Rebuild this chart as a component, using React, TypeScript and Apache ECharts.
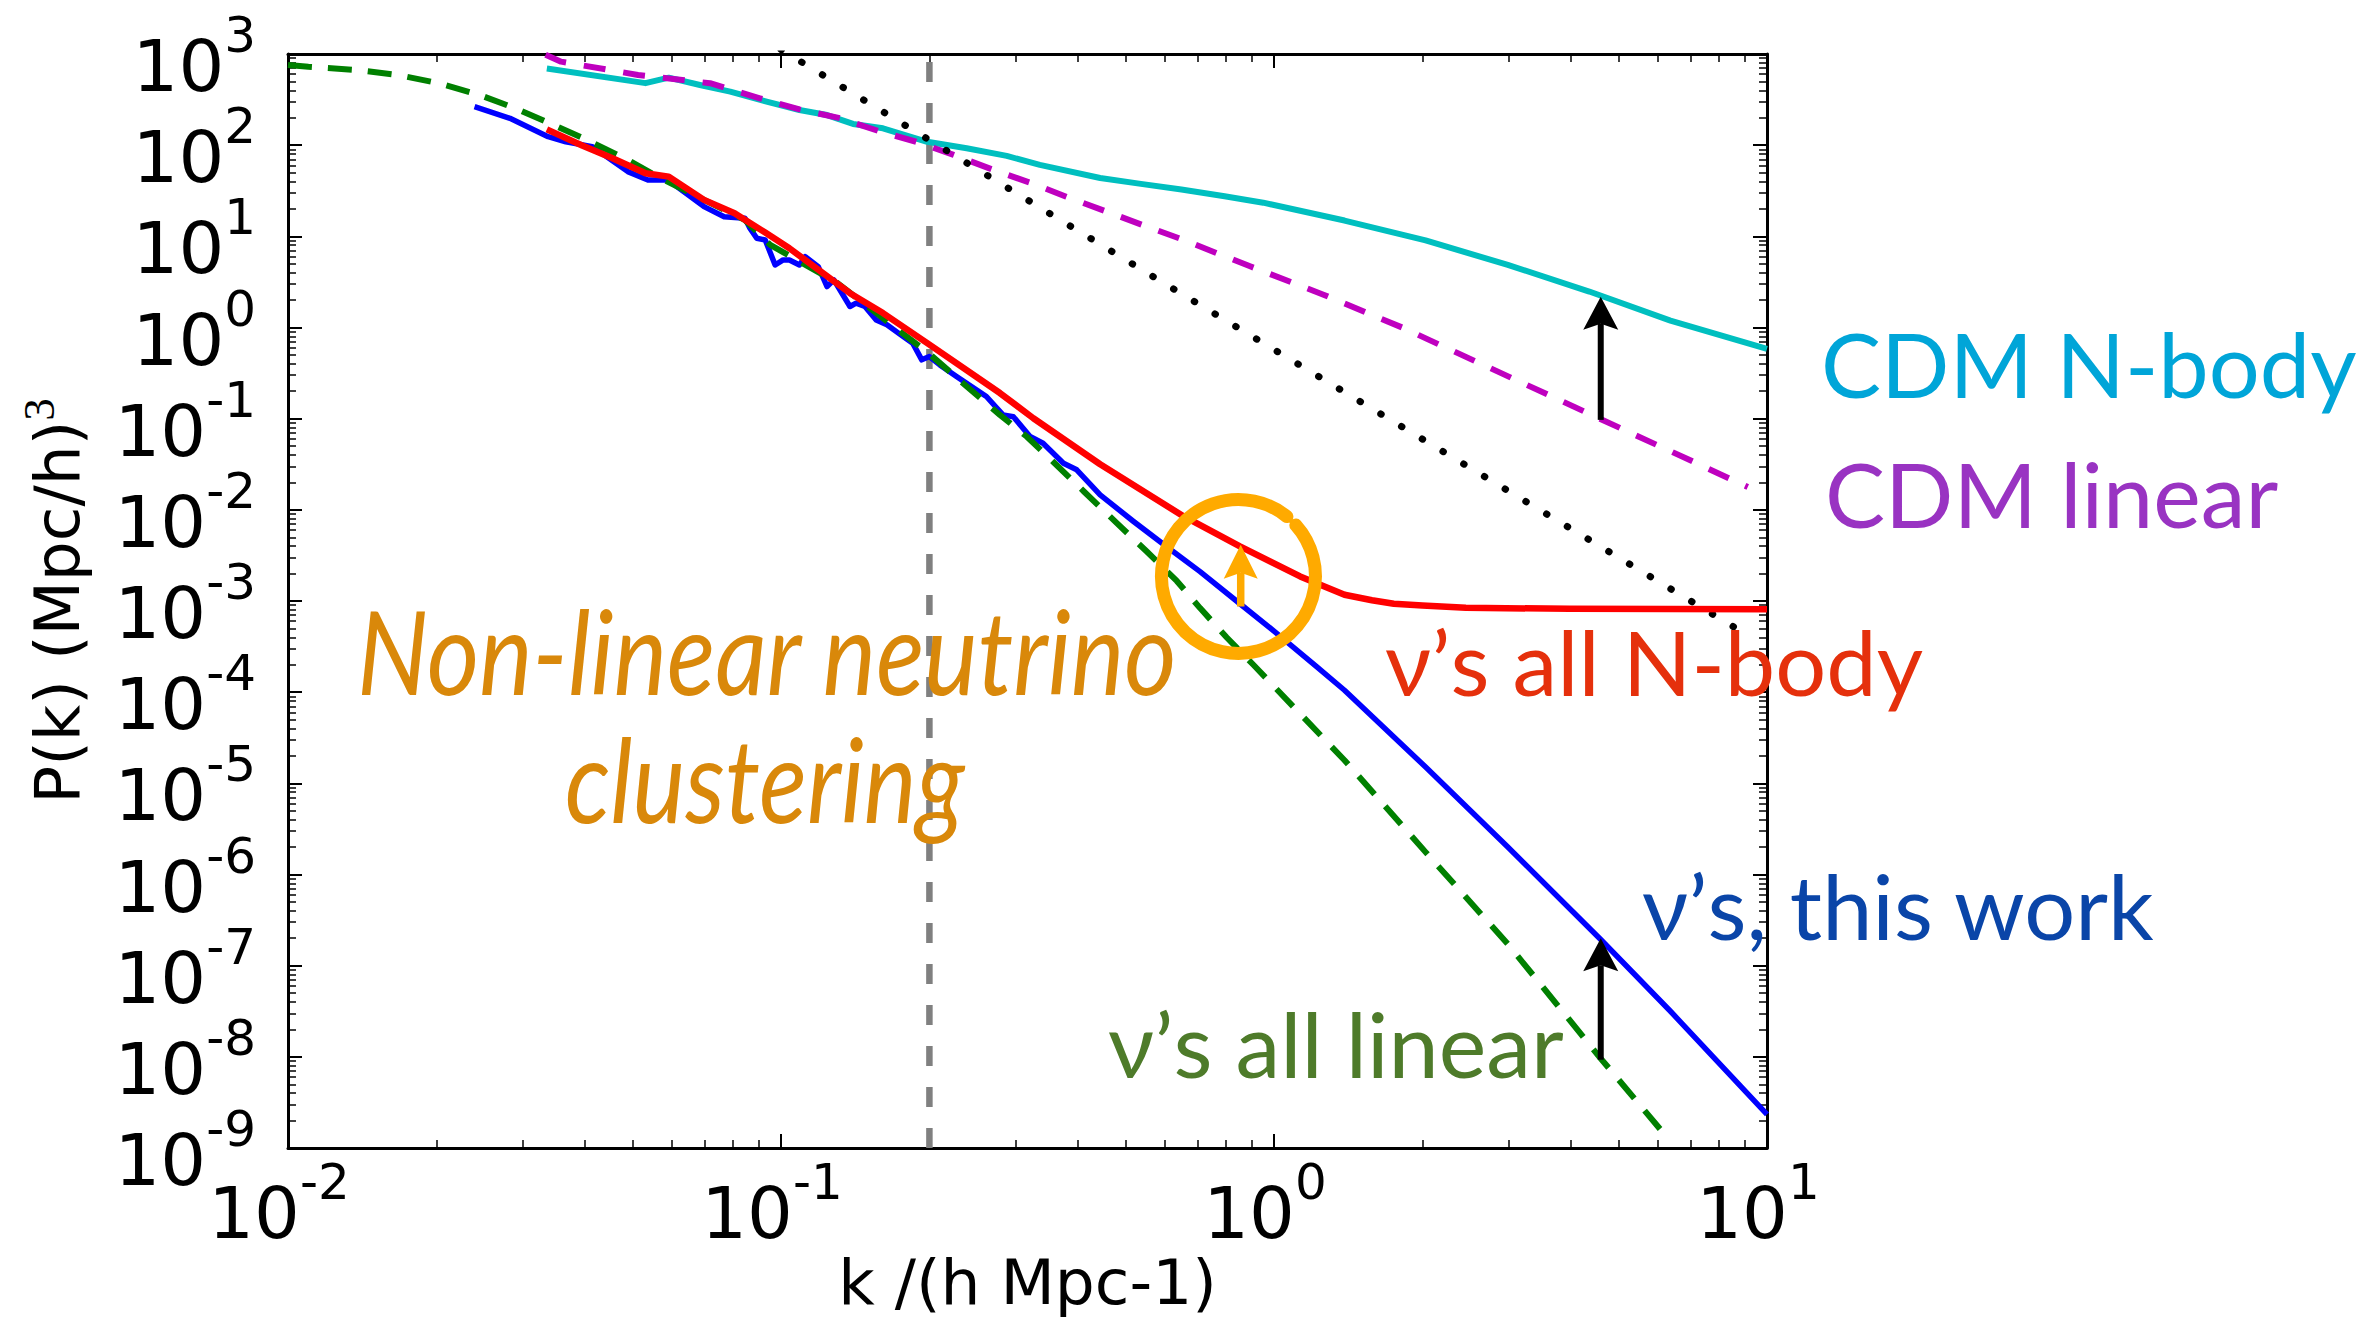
import React, { useEffect, useRef } from "react";
import * as echarts from "echarts";

// ---------------- axes / ticks ----------------
const xMajorTicks = [0.01, 0.1, 1, 10];
const yMajorTicks = [1e-9, 1e-8, 1e-7, 1e-6, 1e-5, 1e-4, 1e-3, 1e-2, 1e-1, 1, 10, 100, 1000];
const minorSteps = [2, 3, 4, 5, 6, 7, 8, 9];
const xAxisTitle = "k /(h Mpc-1)";
const yAxisTitle = "P(k) (Mpc/h)";
const yAxisTitleSup = "3";

// ---------------- series ----------------
// vertical dashed line at k = 0.2
const cutK = [0.2, 0.2];
const cutP = [1e-9, 1e3];

// CDM N-body (cyan)
const cdmNbodyK = [0.0335, 0.0531, 0.0592, 0.0685, 0.0789, 0.0935, 0.109, 0.124, 0.14, 0.161, 0.198, 0.238, 0.287, 0.335, 0.444, 0.537, 0.649, 0.794, 0.951, 1.39, 2.03, 2.98, 4.36, 6.37, 10];
const cdmNbodyP = [692, 479, 550, 457, 386, 300, 243, 214, 171, 153, 109, 92.5, 76.2, 60.7, 43.6, 37.6, 32.7, 27.5, 23.4, 14.9, 9.02, 4.86, 2.48, 1.19, 0.582];

// CDM linear (magenta dashed)
const cdmLinearK = [0.0333, 0.0358, 0.0513, 0.0605, 0.0718, 0.0906, 0.109, 0.132, 0.159, 0.188, 0.224, 0.27, 0.325, 0.379, 0.457, 0.552, 0.655, 0.897, 1.26, 1.82, 2.56, 3.74, 5.07, 7.14, 9.14];
const cdmLinearP = [980, 824, 589, 532, 478, 327, 247, 197, 141, 109, 78.2, 53.5, 37.6, 27.2, 18.7, 12.8, 9.14, 4.66, 2.29, 1.0, 0.427, 0.166, 0.0776, 0.0331, 0.0178];

// black dotted power law
const dottedK = [0.1, 0.569, 9.14];
const dottedP = [1120, 3.61, 4.2e-4];

// neutrinos, this work (blue)
const nuThisWorkK = [0.0239, 0.0282, 0.0337, 0.0366, 0.0414, 0.0489, 0.0537, 0.059, 0.0698, 0.0767, 0.0845, 0.0865, 0.0893, 0.0929, 0.0973, 0.101, 0.104, 0.109, 0.112, 0.119, 0.124, 0.128, 0.138, 0.142, 0.148, 0.156, 0.164, 0.177, 0.185, 0.193, 0.2, 0.21, 0.227, 0.249, 0.261, 0.282, 0.296, 0.32, 0.34, 0.374, 0.398, 0.444, 0.519, 0.605, 0.708, 0.853, 1.0, 1.22, 1.39, 2.03, 2.98, 4.61, 6.37, 10];
const nuThisWorkP = [264, 197, 124, 109, 96.4, 51.3, 41.5, 41.5, 21.2, 16.4, 15.8, 12.3, 9.53, 9.12, 4.85, 5.51, 5.51, 4.85, 5.98, 4.66, 2.81, 3.33, 1.7, 1.85, 1.7, 1.21, 1.07, 0.794, 0.673, 0.442, 0.48, 0.389, 0.29, 0.207, 0.175, 0.11, 0.105, 0.0637, 0.0538, 0.0325, 0.0275, 0.0146, 0.00745, 0.00396, 0.0021, 9.33e-4, 4.68e-4, 1.91e-4, 1.05e-4, 1.51e-5, 2.0e-6, 1.91e-7, 3.16e-8, 2.34e-9];

// neutrinos, all linear (green dashed)
const nuLinearK = [0.01, 0.011, 0.0138, 0.0167, 0.0202, 0.0245, 0.0289, 0.0346, 0.0404, 0.0489, 0.0562, 0.0698, 0.0845, 0.0951, 0.13, 0.174, 0.2, 0.234, 0.278, 0.315, 0.356, 0.412, 0.48, 0.552, 0.635, 0.708, 0.802, 0.908, 1.39, 2.03, 2.98, 4.61, 6.17];
const nuLinearP = [759, 724, 668, 589, 478, 355, 254, 166, 114, 68.9, 45.2, 25.1, 15.1, 8.05, 3.09, 0.912, 0.513, 0.245, 0.11, 0.0637, 0.0339, 0.0158, 0.00714, 0.00349, 0.00166, 8.36e-4, 3.98e-4, 2.0e-4, 1.79e-5, 1.76e-6, 1.73e-7, 9.46e-9, 1.45e-9];

// neutrinos, all N-body (red)
const nuNbodyK = [0.0335, 0.0394, 0.0454, 0.0531, 0.0592, 0.0698, 0.0805, 0.0929, 0.104, 0.138, 0.161, 0.198, 0.278, 0.325, 0.444, 0.655, 0.853, 1.13, 1.39, 1.58, 1.75, 2.0, 2.45, 3.98, 10];
const nuNbodyP = [149, 100, 72.4, 49.2, 45.2, 25.1, 17.9, 11.0, 7.4, 2.38, 1.44, 0.673, 0.191, 0.101, 0.0316, 0.00851, 0.00398, 0.00186, 0.00117, 0.00102, 9.33e-4, 8.9e-4, 8.41e-4, 8.22e-4, 8.13e-4];

// annotations (data coordinates)
const upperArrow = { k: 4.6, from: 0.097, to: 2.18 };
const lowerArrow = { k: 4.6, from: 9.3e-9, to: 2.0e-7 };
const orangeArrow = { k: 0.856, from: 8.7e-4, to: 4.13e-3 };
const orangeCircle = { k: 0.847, p: 1.86e-3 };

// ---------------- helpers ----------------
const pairs = (ks: number[], ps: number[]) => ks.map((k, i) => [k, ps[i]]);
const minorOf = (major: number[]) =>
  major.slice(0, -1).flatMap((m) => minorSteps.map((s) => Number((m * s).toPrecision(2))));
const expOf = (v: number) => Math.round(Math.log10(v));
// keep the end values just inside the axis extent (float rounding of log scale)
const inside = (vals: number[]) =>
  vals.map((v, i) => (i === 0 ? v * 1.000001 : i === vals.length - 1 ? v * 0.999999 : v));

const SANS = "'DejaVu Sans', sans-serif";
const LABEL_FONT = "Lato, 'Noto Sans', 'DejaVu Sans', sans-serif";

function logAxis(min: number, max: number, extra: any) {
  return {
    type: "log",
    logBase: 10,
    min,
    max,
    gridIndex: 0,
    splitLine: { show: false },
    minorTick: { show: false },
    minorSplitLine: { show: false },
    axisLine: { show: false, onZero: false },
    axisTick: { show: false },
    axisLabel: { show: false },
    nameMoveOverlap: false,
    ...extra,
  };
}

const tickStyle = (len: number, w: number, values: number[]) => ({
  show: true,
  inside: true,
  length: len,
  customValues: inside(values),
  lineStyle: { color: "#000", width: w },
});
const frameLine = { show: true, onZero: false, lineStyle: { color: "#000", width: 3 } };

function buildOption() {
  const xMinor = minorOf(xMajorTicks);
  const yMinor = minorOf(yMajorTicks);
  const xr = [0.01, 10];
  const yr = [1e-9, 1e3];
  // block height 84: "10" centred 12px below the block centre, exponent 19px above it
  const baseTok = { fontSize: 72, height: 60, padding: [24, 0, 0, 0], verticalAlign: "bottom", fontFamily: SANS, color: "#000" };
  const supTok = { fontSize: 50, height: 46, verticalAlign: "top", fontFamily: SANS, color: "#000" };
  const richX = { b: baseTok, s: { ...supTok, padding: [0, 18, 0, 0] } };
  const richY = { b: baseTok, s: supTok };
  const powLabel = (v: number) => `{b|10}{s|${expOf(v)}}`;

  // y labels split over two overlaid axes (alternate decades) so that no label is dropped
  const yLabelsA = yMajorTicks.filter((_, i) => i % 2 === 0);
  const yLabelsB = yMajorTicks.filter((_, i) => i % 2 === 1);
  const yLabelAxis = (vals: number[]) => ({
    show: true,
    customValues: inside(vals),
    showMinLabel: true,
    showMaxLabel: true,
    hideOverlap: false,
    margin: 32,
    formatter: powLabel,
    rich: richY,
  });

  const line = (name: string, data: number[][], lineStyle: any) => ({
    type: "line",
    name,
    xAxisIndex: 0,
    yAxisIndex: 0,
    data,
    symbol: "none",
    showSymbol: false,
    silent: true,
    clip: true,
    smooth: false,
    lineStyle: { join: "round", ...lineStyle },
    emphasis: { disabled: true },
  });

  return {
    animation: false,
    backgroundColor: "#fff",
    grid: { left: 288, top: 54, right: 611, bottom: 172, containLabel: false, outerBoundsMode: "none" },
    xAxis: [
      logAxis(xr[0], xr[1], {
        position: "bottom",
        axisLine: frameLine,
        axisTick: tickStyle(14, 2, xMajorTicks),
        axisLabel: {
          show: true,
          customValues: inside(xMajorTicks),
          showMinLabel: true,
          showMaxLabel: true,
          hideOverlap: false,
          margin: 11,
          formatter: powLabel,
          rich: richX,
        },
        name: xAxisTitle,
        nameLocation: "middle",
        nameGap: 103,
        nameTextStyle: { fontSize: 63, fontFamily: SANS, color: "#000" },
      }),
      logAxis(xr[0], xr[1], { position: "bottom", axisTick: tickStyle(8, 1.5, xMinor) }),
      logAxis(xr[0], xr[1], { position: "top", axisLine: frameLine, axisTick: tickStyle(14, 2, xMajorTicks) }),
      logAxis(xr[0], xr[1], { position: "top", axisTick: tickStyle(8, 1.5, xMinor) }),
    ],
    yAxis: [
      logAxis(yr[0], yr[1], {
        position: "left",
        axisLine: frameLine,
        axisTick: tickStyle(14, 2, yMajorTicks),
        axisLabel: yLabelAxis(yLabelsA),
        name: `{a|${yAxisTitle}}{s|${yAxisTitleSup}}`,
        nameLocation: "middle",
        nameRotate: 90,
        nameGap: 199,
        nameTextStyle: {
          rich: {
            a: { fontSize: 63, height: 63, padding: [10, 0, 0, 0], verticalAlign: "bottom", fontFamily: SANS, color: "#000" },
            s: { fontSize: 45, height: 45, verticalAlign: "top", fontFamily: "'Liberation Serif', 'DejaVu Serif', serif", color: "#000" },
          },
        },
      }),
      logAxis(yr[0], yr[1], { position: "left", axisLabel: yLabelAxis(yLabelsB) }),
      logAxis(yr[0], yr[1], { position: "left", axisTick: tickStyle(8, 1.5, yMinor) }),
      logAxis(yr[0], yr[1], { position: "right", axisLine: frameLine, axisTick: tickStyle(14, 2, yMajorTicks) }),
      logAxis(yr[0], yr[1], { position: "right", axisTick: tickStyle(8, 1.5, yMinor) }),
    ],
    series: [
      line("k = 0.2", pairs(cutK, cutP), { color: "#808080", width: 6.5, type: [20, 21] }),
      line("CDM N-body", pairs(cdmNbodyK, cdmNbodyP), { color: "#00BFBF", width: 6 }),
      line("CDM linear", pairs(cdmLinearK, cdmLinearP), { color: "#BF00BF", width: 6, type: [22, 18] }),
      line("power law", pairs(dottedK, dottedP), { color: "#000", width: 7, type: [0.5, 23.7], cap: "round" }),
      line("ν's, this work", pairs(nuThisWorkK, nuThisWorkP), { color: "#0000FF", width: 5.5 }),
      line("ν's all linear", pairs(nuLinearK, nuLinearP), { color: "#008000", width: 6, type: [24, 16] }),
      line("ν's all N-body", pairs(nuNbodyK, nuNbodyP), { color: "#FF0000", width: 6.5 }),
    ],
  };
}

function buildGraphic(chart: any) {
  const px = (k: number, p: number) =>
    chart.convertToPixel({ xAxisIndex: 0, yAxisIndex: 0 }, [k, p]) as number[];

  const arrow = (a: { k: number; from: number; to: number }, color: string, shaftW: number, headW: number, headL: number) => {
    const [x, y0] = px(a.k, a.from);
    const [, y1] = px(a.k, a.to);
    const notch = 6;
    return [
      {
        type: "line",
        z: 60,
        silent: true,
        shape: { x1: x, y1: y0, x2: x, y2: y1 + headL - notch },
        style: { stroke: color, lineWidth: shaftW },
      },
      {
        type: "polygon",
        z: 60,
        silent: true,
        shape: {
          points: [
            [x, y1],
            [x + headW / 2, y1 + headL],
            [x, y1 + headL - notch],
            [x - headW / 2, y1 + headL],
          ],
        },
        style: { fill: color },
      },
    ];
  };

  const [cx, cy] = px(orangeCircle.k, orangeCircle.p);

  const label = (text: string, x: number, y: number, color: string, font: string, scaleX = 1) => ({
    type: "text",
    z: 70,
    silent: true,
    x,
    y,
    scaleX,
    style: {
      text,
      x: 0,
      y: 0,
      fill: color,
      font,
      align: "left",
      verticalAlign: "middle",
      textAlign: "left",
      textVerticalAlign: "middle",
    },
  });

  const right = `90px ${LABEL_FONT}`;
  const italic = `italic 116px ${LABEL_FONT}`;

  return [
    ...arrow(upperArrow, "#000", 6, 35, 33),
    ...arrow(lowerArrow, "#000", 6, 35, 33),
    {
      type: "arc",
      z: 65,
      silent: true,
      shape: { cx, cy, r: 77, startAngle: -0.73, endAngle: -0.89 + Math.PI * 2, clockwise: true },
      style: { stroke: "#FFAA00", lineWidth: 13, fill: null, lineCap: "round" },
    },
    ...arrow(orangeArrow, "#FFAA00", 7.5, 34, 34),
    label("CDM N-body", 1821, 363, "#00A5D8", right),
    label("CDM linear", 1825, 493, "#9933C2", right),
    label("ν’s all N-body", 1385, 661, "#E5300C", right),
    label("ν’s, this work", 1642, 905, "#0A45A8", right),
    label("ν’s all linear", 1108, 1043, "#4E7B2A", right),
    label("Non-linear neutrino", 357, 650, "#D9880A", italic, 0.868),
    label("clustering", 565, 778, "#D9880A", italic, 0.858),
  ];
}

export default function App() {
  const ref = useRef<HTMLDivElement>(null);
  useEffect(() => {
    document.body.style.margin = "0";
    const el = ref.current as HTMLDivElement;
    const chart = echarts.init(el, null, { renderer: "svg" });
    chart.setOption(buildOption() as any);
    chart.setOption({ graphic: buildGraphic(chart) } as any);
    return () => chart.dispose();
  }, []);
  return <div ref={ref} style={{ width: 2378, height: 1320, background: "#fff" }} />;
}
